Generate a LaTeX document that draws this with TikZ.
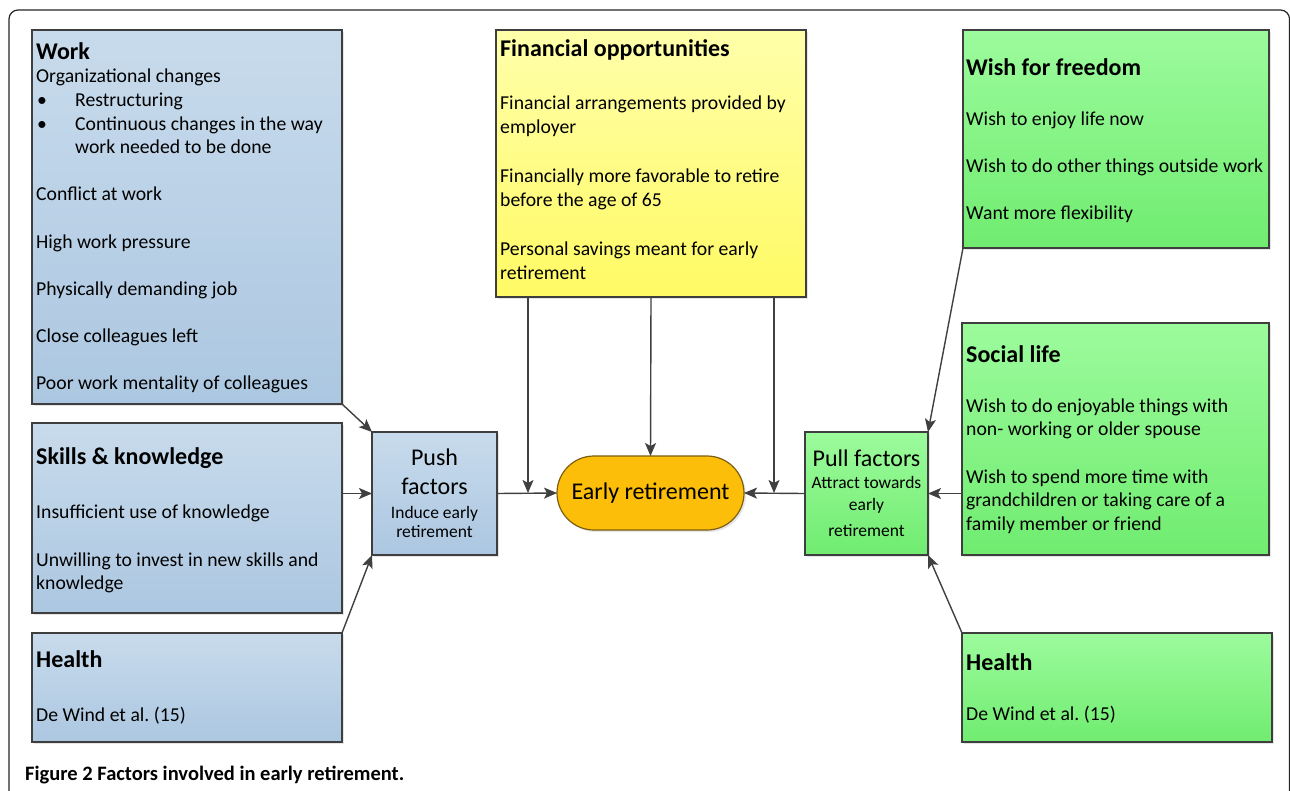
\documentclass[tikz,border=0pt]{standalone}
\usepackage{fontspec}
\setmainfont{Carlito}
\usepackage{tikz}
\usetikzlibrary{arrows.meta, positioning, shapes.misc, shadows}
\definecolor{blueTop}{RGB}{200,219,236}
\definecolor{blueBot}{RGB}{172,199,225}
\definecolor{greenTop}{RGB}{156,251,156}
\definecolor{greenBot}{RGB}{112,236,112}
\definecolor{yellowTop}{RGB}{255,255,170}
\definecolor{yellowBot}{RGB}{255,250,100}
\definecolor{erFill}{RGB}{252,190,8}
\definecolor{erLine}{RGB}{125,95,15}
\definecolor{boxline}{RGB}{62,62,62}
\definecolor{arrowgray}{RGB}{64,64,64}
\newcommand{\bodyfont}{\fontsize{19.7}{23.6}\selectfont}
\newcommand{\headfont}{\fontsize{24}{23.6}\selectfont\bfseries}
\newcommand{\bigfont}{\fontsize{24}{19}\selectfont}
\newcommand{\smallfont}{\fontsize{17.5}{19}\selectfont}
\newcommand{\bul}{\makebox[39pt][l]{\hspace{1pt}\textbullet}}
\newcommand{\firstrow}{\rule{0pt}{19pt}}
\tikzset{
    box/.style={rectangle, draw=boxline, line width=1.2pt, anchor=north west, inner sep=0pt, outer sep=0pt,
        drop shadow={shadow xshift=2pt, shadow yshift=-2pt, opacity=0.2}},
    pushbox/.style={box, top color=blueTop, bottom color=blueBot},
    pullbox/.style={box, top color=greenTop, bottom color=greenBot},
    moneybox/.style={box, top color=yellowTop, bottom color=yellowBot},
    txt/.style={anchor=north west, align=left, inner sep=0pt, font=\bodyfont},
    factor/.style={anchor=north, align=center, inner sep=0pt, font=\smallfont},
    arrow/.style={-{Stealth[length=13pt, width=11pt, inset=3pt]}, line width=1.4pt, draw=arrowgray},
    frame/.style={draw=black!85, line width=1.2pt, rounded corners=9pt}
}
\begin{document}
\begin{tikzpicture}[x=1pt, y=-1pt]
    \useasboundingbox[fill=white] (0,0) rectangle (1290,790);
    \draw[frame] (9,800) -- (9,10) -- (1289.5,10) -- (1289.5,800);

    % Push side
    \node[pushbox, minimum width=310pt, minimum height=374pt] (work) at (32,30) {};
    \node[pushbox, minimum width=310pt, minimum height=190pt] (skills) at (32,423) {};
    \node[pushbox, minimum width=310pt, minimum height=109pt] (healthL) at (32,633) {};
    \node[pushbox, minimum width=125pt, minimum height=123pt] (push) at (372,432) {};

    % Financial opportunities
    \node[moneybox, minimum width=310pt, minimum height=267pt] (finance) at (496,30) {};

    % Pull side
    \node[pullbox, minimum width=306pt, minimum height=218pt] (freedom) at (963,30) {};
    \node[pullbox, minimum width=307pt, minimum height=232pt] (social) at (962,323) {};
    \node[pullbox, minimum width=310pt, minimum height=109pt] (healthR) at (962,633) {};
    \node[pullbox, minimum width=123pt, minimum height=123pt] (pull) at (805,432) {};

    % Early retirement
    \node[rounded rectangle, draw=erLine, line width=1.2pt, fill=erFill, minimum width=187pt, minimum height=74pt,
        inner sep=0pt, outer sep=0pt, font=\fontsize{24}{24}\selectfont,
        drop shadow={shadow xshift=2pt, shadow yshift=-2pt, opacity=0.2}] (er) at (650.5,493) {Early retirement};

    % Texts
    \node[txt] (worktxt) at (36,40) {\firstrow{\headfont Work}\\
        Organizational changes\\
        \bul Restructuring\\
        \bul Continuous changes in the way\\
        \hspace*{39pt}work needed to be done\\[23.6pt]
        Conflict at work\\[23.6pt]
        High work pressure\\[23.6pt]
        Physically demanding job\\[23.6pt]
        Close colleagues left\\[23.6pt]
        Poor work mentality of colleagues};
    \node[txt] (skillstxt) at (36,445) {\firstrow{\headfont Skills \& knowledge}\\[31pt]
        Insufficient use of knowledge\\[23.6pt]
        Unwilling to invest in new skills and\\
        knowledge};
    \node[txt] (healthLtxt) at (36,648) {\firstrow{\headfont Health}\\[30.4pt]
        De Wind et al.\ (15)};
    \node[txt, font=\fontsize{19.7}{24.3}\selectfont] (financetxt) at (500,37) {\firstrow{\headfont Financial opportunities}\\[28.7pt]
        Financial arrangements provided by\\
        employer\\[24.3pt]
        Financially more favorable to retire\\
        before the age of 65\\[24.3pt]
        Personal savings meant for early\\
        retirement};
    \node[txt] (freedomtxt) at (966,56) {\firstrow{\headfont Wish for freedom}\\[26.4pt]
        Wish to enjoy life now\\[23.6pt]
        Wish to do other things outside work\\[23.6pt]
        Want more flexibility};
    \node[txt] (socialtxt) at (966,343) {\firstrow{\headfont Social life}\\[26.4pt]
        Wish to do enjoyable things with\\
        non- working or older spouse\\[23.6pt]
        Wish to spend more time with\\
        grandchildren or taking care of a\\
        family member or friend};
    \node[txt] (healthRtxt) at (966,651) {\firstrow{\headfont Health}\\[26.4pt]
        De Wind et al.\ (15)};
    \node[factor] (pushtxt) at (434.5,446) {\firstrow{\bigfont Push}\\[10pt]
        {\bigfont factors}\\[5pt]
        Induce early\\
        retirement};
    \node[factor] (pulltxt) at (866.5,447) {\firstrow{\bigfont Pull factors}\\[3pt]
        Attract towards\\[3pt]
        early\\[7pt]
        retirement};

    % Connections
    \draw[arrow] (work.south east) -- (push.north west);
    \draw[arrow] (push.west -| skills.east) -- (push.west);
    \draw[arrow] (healthL.north east) -- (push.south west);
    \draw[arrow] (push.east) -- (er.west);
    \coordinate (finL) at (528,493);
    \coordinate (finR) at (774,493);
    \draw[arrow] (finL |- finance.south) -- (finL);
    \draw[arrow] (finance.south) -- (er.north);
    \draw[arrow] (finR |- finance.south) -- (finR);
    \draw[arrow] (pull.west) -- (er.east);
    \draw[arrow] (pull.east -| social.west) -- (pull.east);
    \draw[arrow] (freedom.south west) -- (pull.north east);
    \draw[arrow] (healthR.north west) -- (pull.south east);

    % Caption
    \node[anchor=base west, inner sep=0pt, font=\fontsize{20.5}{22}\selectfont\bfseries] (caption) at (25,780) {Figure 2 Factors involved in early retirement.};
\end{tikzpicture}
\end{document}
